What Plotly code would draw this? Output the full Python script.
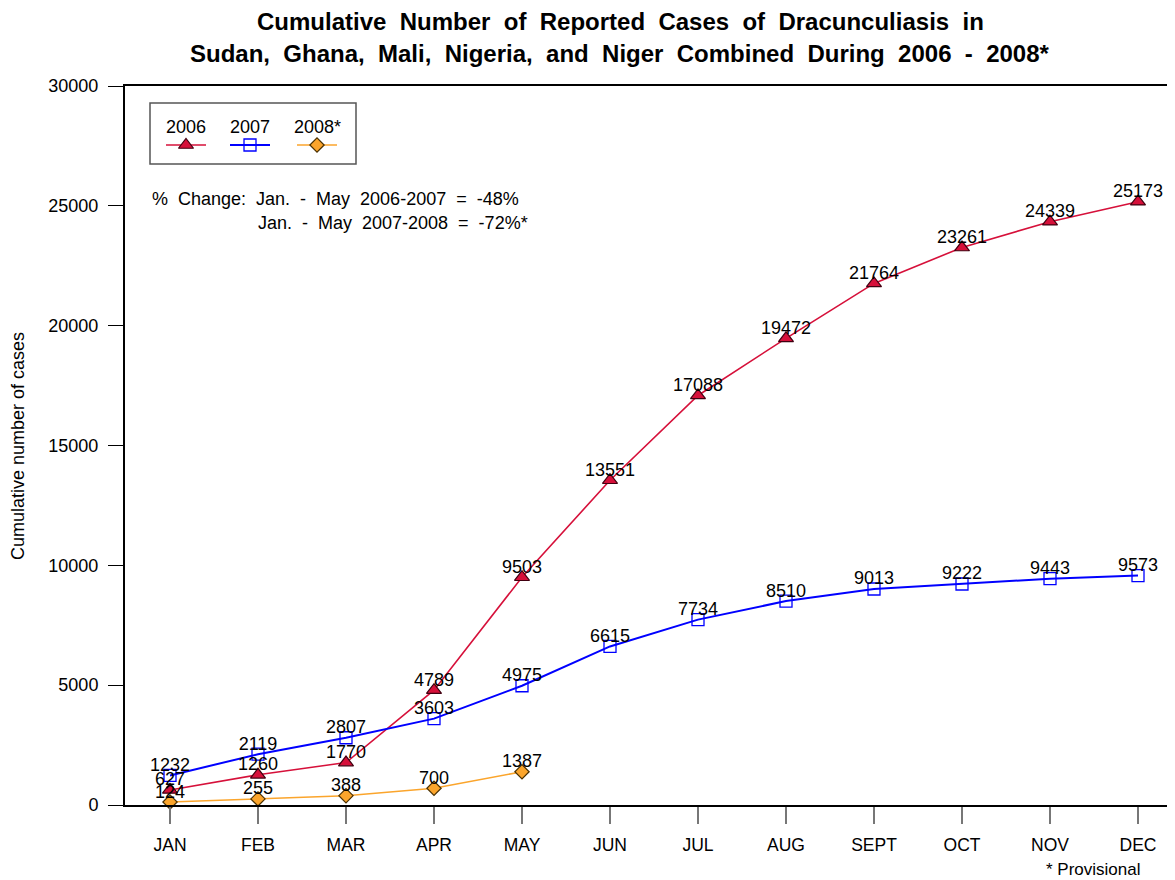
import plotly.graph_objects as go

months = ["JAN", "FEB", "MAR", "APR", "MAY", "JUN", "JUL", "AUG", "SEPT", "OCT", "NOV", "DEC"]
cases_2006 = [627, 1260, 1770, 4789, 9503, 13551, 17088, 19472, 21764, 23261, 24339, 25173]
cases_2007 = [1232, 2119, 2807, 3603, 4975, 6615, 7734, 8510, 9013, 9222, 9443, 9573]
cases_2008 = [124, 255, 388, 700, 1387]
y_ticks = [0, 5000, 10000, 15000, 20000, 25000, 30000]

series_names = ["2006", "2007", "2008*"]
FONT = "Liberation Sans, Arial, sans-serif"
RED = "#D6103A"
BLUE = "#0000FF"
ORANGE = "#FBA52C"
NB = " \u00a0"  # widened word spacing as in the reference

W, H = 1175, 880
L, T, B = 125, 86, 75          # plot area edges in page pixels
OFF = 8                         # browser body margin
PW, PH = W - L, H - T - B


def px(xp):
    return (xp - L) / PW


def py(yp):
    return (H - B - yp) / PH


styles = [
    dict(color=RED, width=1.6, symbol="triangle-up", size=13, fill=RED, mline="#400010"),
    dict(color=BLUE, width=2, symbol="square-open", size=12, fill=BLUE, mline=BLUE),
    dict(color=ORANGE, width=1.6, symbol="diamond", size=11, fill=ORANGE, mline="#4a3000"),
]

fig = go.Figure()
for name, vals, st in zip(series_names, [cases_2006, cases_2007, cases_2008], styles):
    xs = list(range(len(vals)))
    fig.add_trace(go.Scatter(
        x=xs, y=vals, name=name, mode="lines+markers",
        line=dict(color=st["color"], width=st["width"]),
        marker=dict(symbol=st["symbol"], size=st["size"], color=st["fill"], opacity=1,
                    line=dict(color=st["mline"], width=1.2 if st["symbol"] != "square-open" else 1.3)),
        showlegend=False, cliponaxis=False,
    ))
for name, vals in zip(series_names, [cases_2006, cases_2007, cases_2008]):
    fig.add_trace(go.Scatter(
        x=list(range(len(vals))), y=vals, mode="text",
        text=[str(v) for v in vals], textposition="top center",
        textfont=dict(family=FONT, size=18, color="black"),
        showlegend=False, cliponaxis=False, hoverinfo="skip",
    ))

# Custom legend (samples on an overlay axis in paper-like units)
leg_centers = [186, 250, 317]
for name, st, cx in zip(series_names, styles, leg_centers):
    fig.add_trace(go.Scatter(
        x=[px(cx - 20), px(cx + 20)], y=[py(145)] * 2,
        xaxis="x2", yaxis="y2", mode="lines",
        line=dict(color=st["color"], width=st["width"]),
        showlegend=False, hoverinfo="skip",
    ))
    fig.add_trace(go.Scatter(
        x=[px(cx)], y=[py(145)],
        xaxis="x2", yaxis="y2", mode="markers",
        marker=dict(symbol=st["symbol"], size=st["size"], color=st["fill"], opacity=1,
                    line=dict(color=st["mline"], width=1.2 if st["symbol"] != "square-open" else 1.3)),
        showlegend=False, hoverinfo="skip",
    ))
    fig.add_annotation(x=px(cx), y=py(127), xref="paper", yref="paper", text=name,
                       xanchor="center", yanchor="middle", showarrow=False,
                       font=dict(family=FONT, size=18, color="black"))

fig.add_shape(type="rect", xref="paper", yref="paper",
              x0=px(150), x1=px(356), y0=py(164), y1=py(103),
              line=dict(color="#555555", width=1.5), fillcolor="rgba(0,0,0,0)")

title1 = "Cumulative Number of Reported Cases of Dracunculiasis in"
title2 = "Sudan, Ghana, Mali, Nigeria, and Niger Combined During 2006 - 2008*"
note1 = "% Change: Jan. - May 2006-2007 = -48%"
note2 = "Jan. - May 2007-2008 = -72%*"

anns = [
    dict(x=px(620), y=py(22), text="<b>" + title1.replace(" ", NB) + "</b>", xanchor="center", size=24),
    dict(x=px(620), y=py(53), text="<b>" + title2.replace(" ", NB) + "</b>", xanchor="center", size=24),
    dict(x=px(150), y=py(199), text=note1.replace(" ", NB), xanchor="left", size=18),
    dict(x=px(256), y=py(223), text=note2.replace(" ", NB), xanchor="left", size=18),
    dict(x=px(1093), y=py(869), text="* Provisional", xanchor="center", size=17),
]
for a in anns:
    fig.add_annotation(x=a["x"], y=a["y"], xref="paper", yref="paper", text=a["text"],
                       xanchor=a["xanchor"], yanchor="middle", showarrow=False,
                       font=dict(family=FONT, size=a["size"], color="black"))

fig.add_annotation(x=px(18), y=py(446), xref="paper", yref="paper", text="Cumulative number of cases",
                   textangle=-90, showarrow=False, xanchor="center", yanchor="middle",
                   font=dict(family=FONT, size=18, color="black"))

fig.update_layout(
    width=W - OFF, height=H - OFF,
    margin=dict(l=L - OFF, r=0, t=T - OFF, b=B, pad=0),
    paper_bgcolor="white", plot_bgcolor="white",
    font=dict(family=FONT, size=18, color="black"),
    xaxis=dict(
        range=[-45 / 88, (W - L - 45) / 88], tickmode="array",
        tickvals=list(range(len(months))), ticktext=months,
        showgrid=False, zeroline=False,
        showline=True, linecolor="black", linewidth=1.5, mirror=True,
        ticks="outside", ticklen=17, tickcolor="#777777", tickwidth=1.5,
        tickfont=dict(family=FONT, size=17.5, color="black"), ticklabelstandoff=6,
    ),
    yaxis=dict(
        range=[0, 30000], tickmode="array", tickvals=y_ticks,
        ticktext=[str(v) for v in y_ticks],
        showgrid=False, zeroline=False,
        showline=True, linecolor="black", linewidth=2,
        ticks="outside", ticklen=15, tickcolor="black", tickwidth=1.2,
        tickfont=dict(family=FONT, size=18, color="black"), ticklabelstandoff=6,
    ),
    xaxis2=dict(overlaying="x", range=[0, 1], visible=False, domain=[0, 1]),
    yaxis2=dict(overlaying="y", range=[0, 1], visible=False),
)

fig.write_html("out.html")
